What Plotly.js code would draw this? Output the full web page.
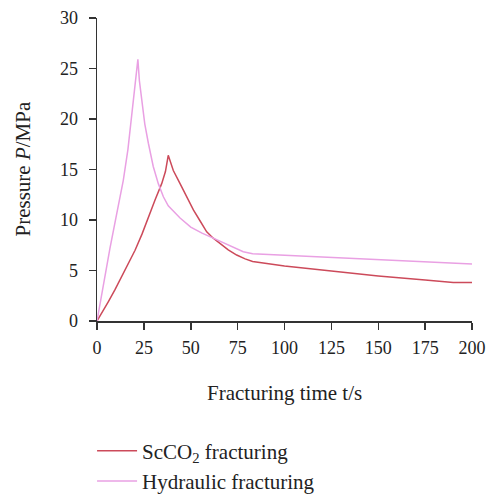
<!DOCTYPE html>
<html>
<head>
<meta charset="utf-8">
<script src="https://cdn.plot.ly/plotly-3.0.1.min.js"></script>
<style>html,body{margin:0;padding:0;background:#fff;}#chart{width:495px;height:495px;}</style>
</head>
<body>
<div id="chart"></div>
<script>
var scco2Time = [0, 3, 6, 9.6, 13, 17, 20.3, 24, 27.4, 31, 34.5, 36.5, 38.0, 40.7, 44.3, 47.5, 51.4, 55, 58.5, 62, 65.6, 70, 74.5, 79, 83, 87, 100, 125, 150, 175, 190, 200];
var scco2Pressure = [0, 0.9, 1.9, 3.1, 4.3, 5.7, 7.0, 8.6, 10.3, 12.0, 13.6, 14.8, 16.4, 14.9, 13.6, 12.4, 11.0, 9.9, 8.83, 8.2, 7.69, 7.05, 6.53, 6.15, 5.9, 5.8, 5.45, 4.95, 4.45, 4.05, 3.8, 3.8];
var hydTime = [0, 3, 6.9, 10.5, 14.0, 16.5, 18.5, 20.3, 21.8, 22.6, 23.8, 25.5, 27.4, 30.0, 32.7, 35.4, 38, 41.2, 44.3, 50, 56, 62.0, 70, 78.0, 83, 100, 125, 150, 175, 200];
var hydPressure = [0, 3.2, 7.2, 10.6, 13.9, 17.0, 20.2, 23.3, 25.9, 23.8, 21.9, 19.5, 17.6, 15.3, 13.6, 12.3, 11.4, 10.8, 10.2, 9.3, 8.7, 8.2, 7.5, 6.86, 6.65, 6.5, 6.3, 6.05, 5.85, 5.64];
var xTicks = [0, 25, 50, 75, 100, 125, 150, 175, 200];
var yTicks = [0, 5, 10, 15, 20, 25, 30];
var seriesNames = ["ScCO<sub>2</sub> fracturing", "Hydraulic fracturing"];
var xTitle = "Fracturing time t/s";
var yTitle = "Pressure <i>P</i>/MPa";

var font = "Liberation Serif, Times New Roman, serif";
var data = [
  {x: scco2Time, y: scco2Pressure, mode: "lines", name: seriesNames[0], legendgroup: "a", line: {color: "#cc4a5a", width: 1.5}},
  {x: hydTime, y: hydPressure, mode: "lines", name: seriesNames[1], legendgroup: "b", line: {color: "#e9a0e3", width: 1.5}}
];
var layout = {
  width: 495, height: 495,
  margin: {l: 97, r: 23, t: 18, b: 174, autoexpand: false},
  paper_bgcolor: "#fff", plot_bgcolor: "#fff",
  font: {family: font, size: 18, color: "#222"},
  showlegend: true,
  legend: {xref: "container", yref: "container", x: 0.186, y: 0.13, xanchor: "left", yanchor: "top", orientation: "v", itemwidth: 40, tracegroupgap: 0, font: {family: font, size: 21, color: "#222"}, bgcolor: "rgba(0,0,0,0)"},
  xaxis: {
    range: [0, 200], tickvals: xTicks, ticktext: xTicks.map(String),
    showline: true, linecolor: "#333", linewidth: 1.5, ticks: "outside", ticklen: 7, tickwidth: 1.5, tickcolor: "#333",
    showgrid: false, zeroline: false, automargin: false, ticklabelstandoff: 3,
    tickfont: {family: font, size: 18, color: "#222"}
  },
  yaxis: {
    range: [0, 30], tickvals: yTicks, ticktext: yTicks.map(String),
    showline: true, linecolor: "#333", linewidth: 1.5, ticks: "outside", ticklen: 7, tickwidth: 1.5, tickcolor: "#333",
    showgrid: false, zeroline: false, automargin: false, ticklabelstandoff: 7,
    tickfont: {family: font, size: 18, color: "#222"}
  },
  annotations: [
    {text: xTitle, xref: "paper", yref: "paper", x: 0.5, y: (321 - 393) / 303, xanchor: "center", yanchor: "middle", showarrow: false, font: {family: font, size: 21, color: "#222"}},
    {text: yTitle, xref: "paper", yref: "paper", x: (22 - 97) / 375, y: 0.5, xanchor: "center", yanchor: "middle", textangle: -90, showarrow: false, font: {family: font, size: 21, color: "#222"}}
  ]
};
Plotly.newPlot("chart", data, layout, {displayModeBar: false, staticPlot: true});
</script>
</body>
</html>
